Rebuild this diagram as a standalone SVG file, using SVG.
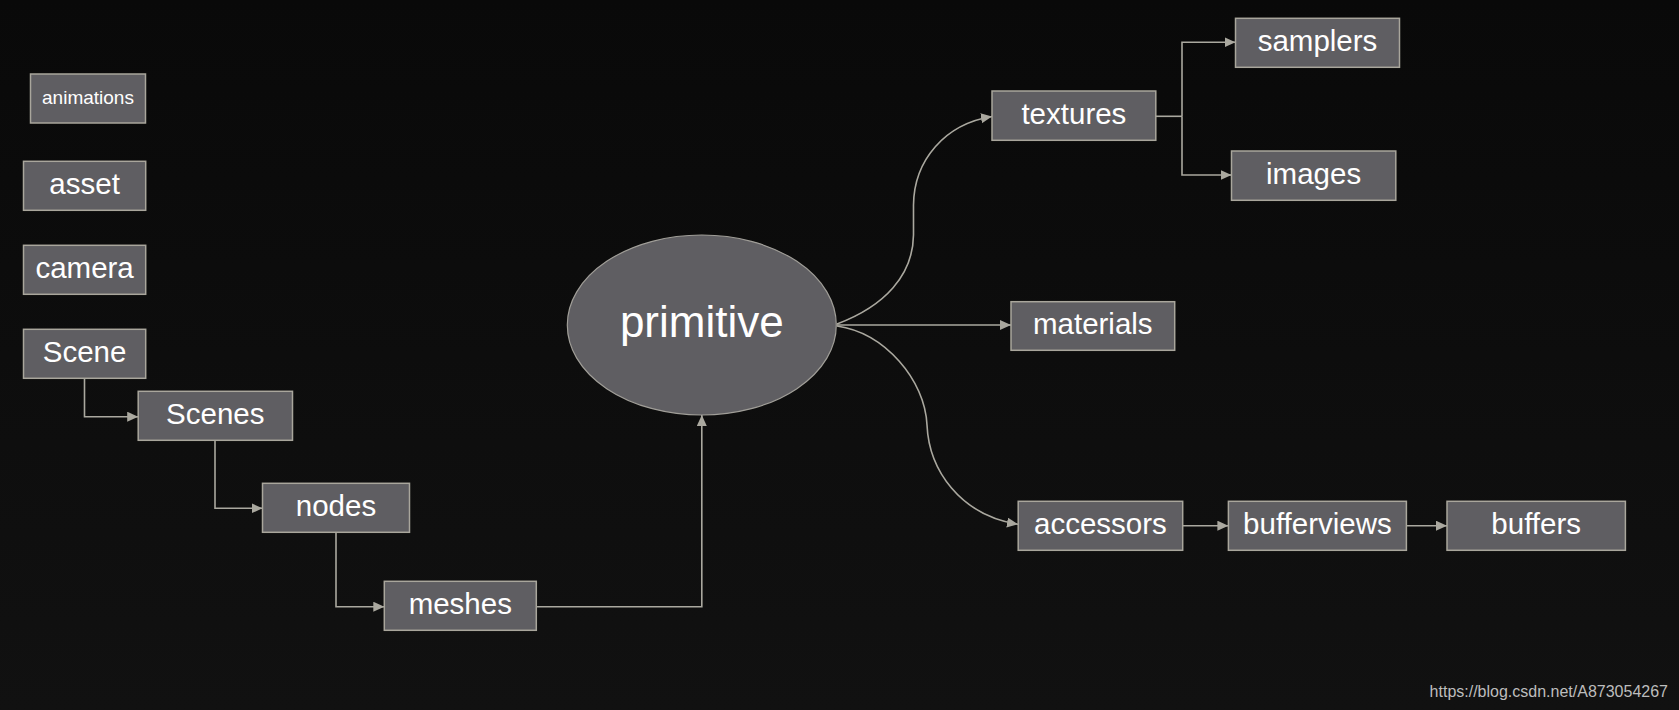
<svg xmlns="http://www.w3.org/2000/svg" width="1679" height="710" viewBox="0 0 1679 710">
<defs>
<linearGradient id="bg" x1="0" y1="0" x2="0" y2="1">
<stop offset="0" stop-color="#090909"/>
<stop offset="1" stop-color="#111111"/>
</linearGradient>
<marker id="arr" markerUnits="userSpaceOnUse" markerWidth="12" markerHeight="11" refX="11" refY="5" orient="auto">
<path d="M0,0 L11,5 L0,10 z" fill="#aaa89f"/>
</marker>
<style>
.box{fill:#5f5e62;stroke:#a9a69c;stroke-width:1.5}
.t{font-family:"Liberation Sans",Arial,sans-serif;fill:#ffffff;text-anchor:middle;font-size:29.5px}
.c{fill:none;stroke:#aaa89f;stroke-width:1.6}
</style>
</defs>
<rect x="0" y="0" width="1679" height="710" fill="url(#bg)"/>
<g id="connectors">
<path class="c" d="M84.5,378.3 V416.7 H138.2" marker-end="url(#arr)"/>
<path class="c" d="M215,440.3 V508.3 H262.5" marker-end="url(#arr)"/>
<path class="c" d="M336,532.3 V606.7 H384.3" marker-end="url(#arr)"/>
<path class="c" d="M536.4,606.7 H701.8 V415" marker-end="url(#arr)"/>
<path class="c" d="M837,324 C885,306 913,275 913.5,235 L913.5,205 C914,160 945,124 992,116.5" marker-end="url(#arr)"/>
<path class="c" d="M837,325 H1011" marker-end="url(#arr)"/>
<path class="c" d="M837,326 C885,333 925,380 927,425 C929,470 960,515 1018,524.3" marker-end="url(#arr)"/>
<path class="c" d="M1155.8,116.3 H1182"/>
<path class="c" d="M1182,116.3 V42.3 H1235.5" marker-end="url(#arr)"/>
<path class="c" d="M1182,116.3 V175 H1231.5" marker-end="url(#arr)"/>
<path class="c" d="M1182.7,525.7 H1228.4" marker-end="url(#arr)"/>
<path class="c" d="M1406.3,525.7 H1447" marker-end="url(#arr)"/>
</g>
<g id="animations"><rect class="box" x="30.5" y="74" width="115" height="49"/><text class="t" x="88" y="104" style="font-size:19px">animations</text></g>
<g id="asset"><rect class="box" x="23.5" y="161.3" width="122.2" height="49"/><text class="t" x="84.6" y="194.1">asset</text></g>
<g id="camera"><rect class="box" x="23.5" y="245.3" width="122.2" height="49"/><text class="t" x="84.6" y="278.1">camera</text></g>
<g id="Scene"><rect class="box" x="23.5" y="329.3" width="122.2" height="49"/><text class="t" x="84.6" y="362.1">Scene</text></g>
<g id="Scenes"><rect class="box" x="138.2" y="391.3" width="154.3" height="49"/><text class="t" x="215.3" y="424.1">Scenes</text></g>
<g id="nodes"><rect class="box" x="262.5" y="483.3" width="147" height="49"/><text class="t" x="336" y="516.1">nodes</text></g>
<g id="meshes"><rect class="box" x="384.3" y="581.3" width="152" height="49"/><text class="t" x="460.3" y="614.1">meshes</text></g>
<g id="primitive"><ellipse cx="701.8" cy="325" rx="134.5" ry="90" fill="#5f5e62" stroke="#a09e98" stroke-width="1.2"/><text class="t" x="701.8" y="337" style="font-size:44px">primitive</text></g>
<g id="textures"><rect class="box" x="992" y="91" width="163.8" height="49.3"/><text class="t" x="1073.9" y="124">textures</text></g>
<g id="samplers"><rect class="box" x="1235.5" y="18.3" width="164" height="49"/><text class="t" x="1317.5" y="51.1">samplers</text></g>
<g id="images"><rect class="box" x="1231.5" y="151" width="164.3" height="49.3"/><text class="t" x="1313.6" y="183.9">images</text></g>
<g id="materials"><rect class="box" x="1011" y="301.7" width="163.7" height="48.6"/><text class="t" x="1092.8" y="334.3">materials</text></g>
<g id="accessors"><rect class="box" x="1018.2" y="501.3" width="164.5" height="49"/><text class="t" x="1100.4" y="534.1">accessors</text></g>
<g id="bufferviews"><rect class="box" x="1228.4" y="501.3" width="178" height="49"/><text class="t" x="1317.4" y="534.1">bufferviews</text></g>
<g id="buffers"><rect class="box" x="1447" y="501.3" width="178.4" height="49"/><text class="t" x="1536.2" y="534.1">buffers</text></g>
<text x="1668" y="697" style="font-family:'Liberation Sans',Arial,sans-serif;font-size:16px;fill:#bdbdbd;text-anchor:end">https://blog.csdn.net/A873054267</text>
</svg>
